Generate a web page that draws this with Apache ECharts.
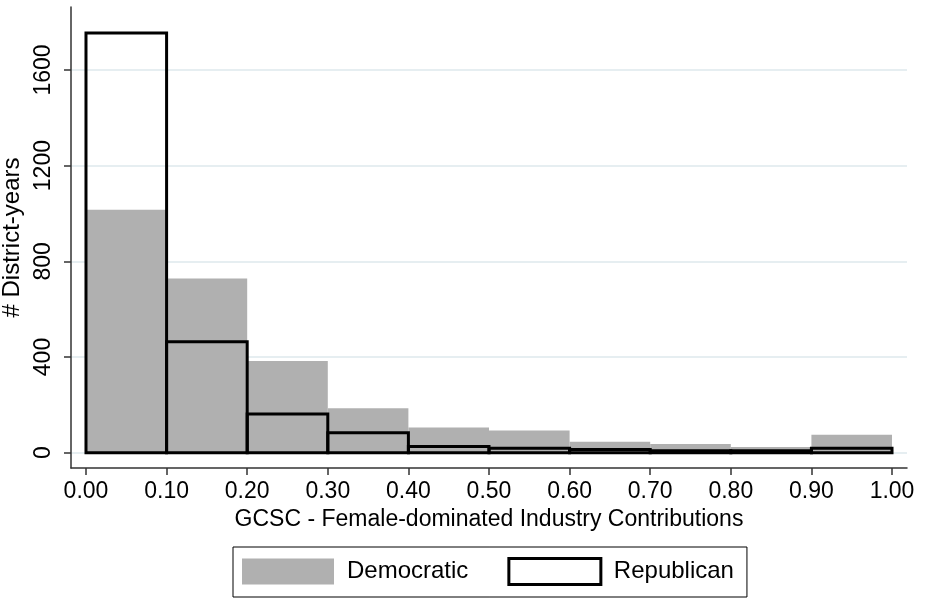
<!DOCTYPE html>
<html>
<head>
<meta charset="utf-8">
<script src="https://cdn.jsdelivr.net/npm/echarts@6/dist/echarts.min.js"></script>
<style>
  html, body { margin: 0; padding: 0; background: #fff; }
  #chart { width: 931px; height: 603px; }
</style>
</head>
<body>
<div id="chart"></div>
<script>
  // bin edges (GCSC share), 0.1 wide
  var binStarts = [0.0, 0.1, 0.2, 0.3, 0.4, 0.5, 0.6, 0.7, 0.8, 0.9];
  var binEnds = [0.1, 0.2, 0.3, 0.4, 0.5, 0.6, 0.7, 0.8, 0.9, 1.0];
  // counts
  var democratic = [1015, 728, 383, 186, 105, 93, 46, 36, 24, 75];
  var republican = [1754, 464, 162, 83, 26, 19, 13, 8, 8, 19];
  var xTicks = [0, 0.1, 0.2, 0.3, 0.4, 0.5, 0.6, 0.7, 0.8, 0.9, 1.0];
  var yTicks = [0, 400, 800, 1200, 1600];

  var font = '"Liberation Sans", Arial, sans-serif';
  var gray = '#b0b0b0';

  function toBins(counts) {
    return counts.map(function (c, i) { return [binStarts[i], binEnds[i], c]; });
  }

  // 直方图矩形
  function histItem(filled) {
    return function (params, api) {
      var p0 = api.coord([api.value(0), api.value(2)]);
      var p1 = api.coord([api.value(1), 0]);
      return {
        type: 'rect',
        shape: {x: p0[0], y: p0[1], width: p1[0] - p0[0], height: p1[1] - p0[1]},
        style: filled ? {fill: gray} : {fill: 'none', stroke: '#000', lineWidth: 3}
      };
    };
  }

  var chart = echarts.init(document.getElementById('chart'), null, {renderer: 'canvas'});

  chart.setOption({
    animation: false,
    backgroundColor: '#fff',
    textStyle: {fontFamily: font},
    grid: {left: 71, right: 24, top: 7, bottom: 135, outerBoundsMode: 'none', containLabel: false},
    legend: {
      left: 233,
      top: 547,
      orient: 'horizontal',
      borderColor: '#000',
      borderWidth: 1,
      padding: [10, 13, 11, 9],
      itemWidth: 92,
      itemHeight: 26,
      itemGap: 39,
      selectedMode: false,
      textStyle: {fontFamily: font, fontSize: 24, color: '#000', padding: [0, 0, 0, 8]},
      data: [
        {name: 'Democratic', icon: 'rect', itemStyle: {color: gray, borderWidth: 0}},
        {name: 'Republican', icon: 'rect', itemStyle: {color: '#fff', borderColor: '#000', borderWidth: 3}}
      ]
    },
    xAxis: {
      type: 'value',
      min: -0.0186,
      max: 1.0186,
      name: 'GCSC - Female-dominated Industry Contributions',
      nameLocation: 'middle',
      nameGap: 40,
      nameTextStyle: {fontFamily: font, fontSize: 23, color: '#000'},
      axisLine: {show: true, onZero: false, lineStyle: {color: '#333', width: 1.5}},
      axisTick: {show: true, length: 7, customValues: xTicks, lineStyle: {color: '#333', width: 1.5}},
      axisLabel: {
        customValues: xTicks,
        margin: 12,
        fontFamily: font,
        fontSize: 23,
        color: '#000',
        formatter: function (v) { return v.toFixed(2); }
      },
      splitLine: {show: false}
    },
    yAxis: {
      type: 'value',
      min: -64,
      max: 1863,
      name: '# District-years',
      nameLocation: 'middle',
      nameGap: 41,
      nameRotate: 90,
      nameTextStyle: {fontFamily: font, fontSize: 24, color: '#000'},
      axisLine: {show: true, onZero: false, lineStyle: {color: '#333', width: 1.5}},
      axisTick: {show: true, length: 7, customValues: yTicks, lineStyle: {color: '#333', width: 1.5}},
      axisLabel: {
        customValues: yTicks,
        rotate: 90,
        margin: 16,
        fontFamily: font,
        fontSize: 23,
        color: '#000',
        formatter: function (v) { return String(v); }
      },
      splitLine: {show: true, lineStyle: {color: '#e6eef1', width: 2}}
    },
    series: [
      {
        name: 'Democratic',
        type: 'custom',
        renderItem: histItem(true),
        itemStyle: {color: gray},
        encode: {x: [0, 1], y: 2},
        data: toBins(democratic),
        z: 2
      },
      {
        name: 'Republican',
        type: 'custom',
        renderItem: histItem(false),
        itemStyle: {color: '#000'},
        encode: {x: [0, 1], y: 2},
        data: toBins(republican),
        z: 3
      }
    ]
  });
</script>
</body>
</html>
